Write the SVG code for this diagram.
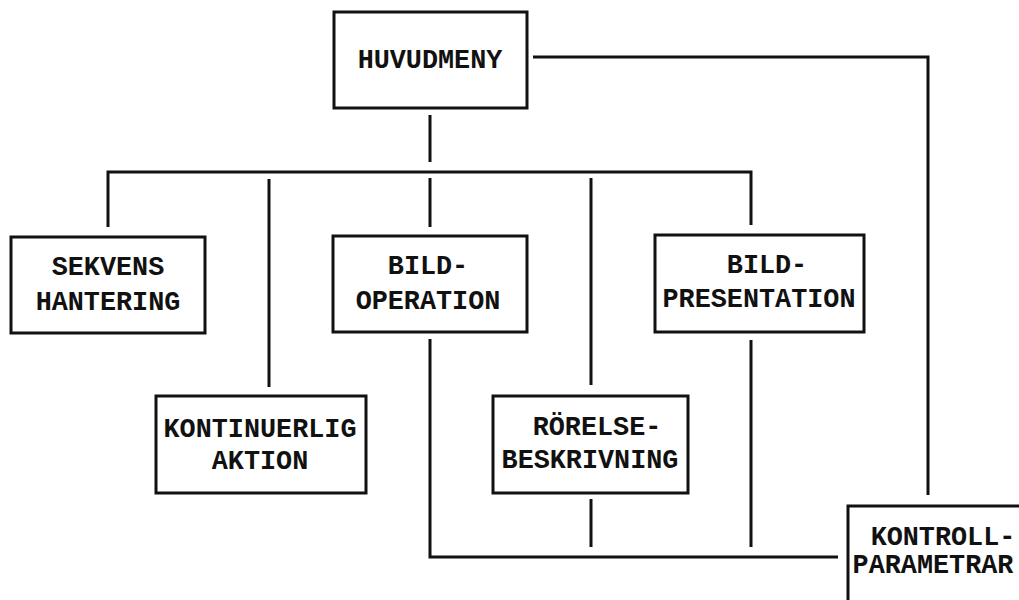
<svg xmlns="http://www.w3.org/2000/svg" width="1019" height="600" viewBox="0 0 1019 600">
<style>
.box{fill:#fff;stroke:#111;stroke-width:3}
.ln{fill:none;stroke:#111;stroke-width:3}
text{font-family:"Liberation Mono","DejaVu Sans Mono",monospace;font-weight:bold;font-size:26.8px;fill:#111;text-anchor:middle}
</style>
<rect width="1019" height="600" fill="#fff"/>
<g id="connectors">
<path class="ln" d="M533,57 H928 V495"/>
<path class="ln" d="M430,115 V162"/>
<path class="ln" d="M108,227 V172 H751 V225"/>
<path class="ln" d="M430,178 V227"/>
<path class="ln" d="M269,179 V387"/>
<path class="ln" d="M591,178 V385"/>
<path class="ln" d="M430,339 V557 H838"/>
<path class="ln" d="M591,499 V547"/>
<path class="ln" d="M751,340 V547"/>
</g>
<g id="huvudmeny">
<rect class="box" x="334" y="12" width="193" height="96"/>
<text x="430" y="68">HUVUDMENY</text>
</g>
<g id="sekvens">
<rect class="box" x="11" y="237" width="194" height="96"/>
<text x="108" y="275">SEKVENS</text>
<text x="108" y="310">HANTERING</text>
</g>
<g id="bildoperation">
<rect class="box" x="333" y="236" width="194" height="96"/>
<text x="428" y="274">BILD-</text>
<text x="428" y="309">OPERATION</text>
</g>
<g id="bildpresentation">
<rect class="box" x="655" y="235" width="209" height="97"/>
<text x="767" y="273">BILD-</text>
<text x="759" y="307">PRESENTATION</text>
</g>
<g id="kontinuerlig">
<rect class="box" x="156" y="396" width="210" height="97"/>
<text x="260" y="437">KONTINUERLIG</text>
<text x="260" y="469">AKTION</text>
</g>
<g id="rorelse">
<rect class="box" x="493" y="396" width="195" height="97"/>
<text x="597" y="435">RÖRELSE-</text>
<text x="590" y="468">BESKRIVNING</text>
</g>
<g id="kontroll">
<rect class="box" x="848" y="506" width="190" height="110"/>
<text x="943" y="545">KONTROLL-</text>
<text x="933" y="573">PARAMETRAR</text>
</g>
</svg>
